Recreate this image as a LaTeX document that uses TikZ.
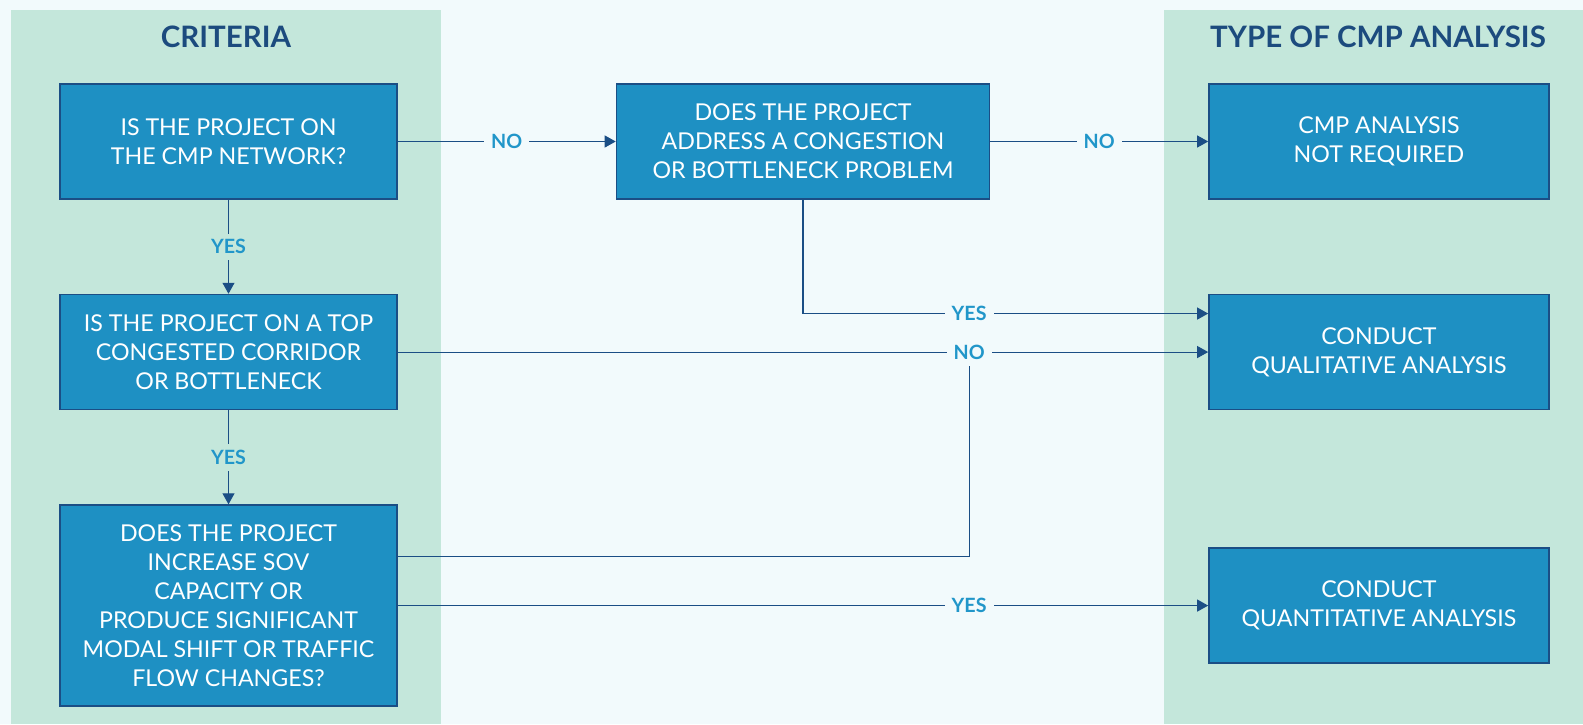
\documentclass[tikz,border=0pt]{standalone}
\usepackage{fontspec}
\setmainfont{Lato}
\usetikzlibrary{arrows.meta, positioning}

\definecolor{canvas}{HTML}{F2FAFC}
\definecolor{panelgreen}{HTML}{C4E7DB}
\definecolor{boxblue}{HTML}{1E90C3}
\definecolor{edgeblue}{HTML}{1B4E85}
\definecolor{tagblue}{HTML}{2196C9}
\definecolor{titleblue}{HTML}{1C4B7E}

\begin{document}
\begin{tikzpicture}[
    x=0.02cm, y=-0.02cm,
    node distance=1.88cm and 4.36cm,
    question/.style={
        rectangle,
        draw=edgeblue,
        fill=boxblue,
        line width=0.9pt,
        minimum width=6.74cm,
        minimum height=2.3cm,
        inner sep=0pt,
        align=center,
        text=white,
        font=\fontsize{13.2}{16.5}\selectfont
    },
    wide_question/.style={
        question,
        minimum width=7.46cm
    },
    tall_question/.style={
        question,
        minimum height=4.02cm
    },
    outcome/.style={
        question,
        minimum width=6.8cm
    },
    heading/.style={
        font=\fontsize{16.8}{19}\selectfont\bfseries,
        text=titleblue
    },
    link/.style={
        -{Triangle[length=0.22cm, width=0.24cm]},
        line width=0.6pt,
        draw=edgeblue
    },
    plain_link/.style={
        line width=0.6pt,
        draw=edgeblue
    },
    answer/.style={
        font=\fontsize{11.2}{12}\selectfont\bfseries,
        text=tagblue,
        fill=canvas,
        inner xsep=0.14cm,
        inner ysep=0.12cm
    },
    panel_answer/.style={
        answer,
        fill=panelgreen
    }
]

    % CANVAS AND PANELS
    \useasboundingbox (0,0) rectangle (1583,724);
    \fill[canvas] (0,0) rectangle (1583,724);
    \fill[panelgreen] (11,10) rectangle (441,724);
    \fill[panelgreen] (1164,10) rectangle (1583,724);

    % COLUMN HEADINGS
    \node[heading] (crit) at (226,37) {CRITERIA};
    \node[heading] (cmptype) at (1378,37) {TYPE OF CMP ANALYSIS};

    % CRITERIA COLUMN (Left Side)
    \node[question] (network) at (228.5,141.5) {IS THE PROJECT ON \\ THE CMP NETWORK?};
    \node[question] (corridor) [below=of network] {IS THE PROJECT ON A TOP \\ CONGESTED CORRIDOR \\ OR BOTTLENECK};
    \node[tall_question] (capacity) [below=of corridor] {DOES THE PROJECT \\ INCREASE SOV \\ CAPACITY OR \\ PRODUCE SIGNIFICANT \\ MODAL SHIFT OR TRAFFIC \\ FLOW CHANGES?};

    % MIDDLE QUESTION
    \node[wide_question] (problem) [right=of network] {DOES THE PROJECT \\ ADDRESS A CONGESTION \\ OR BOTTLENECK PROBLEM};

    % ANALYSIS COLUMN (Right Side)
    \node[outcome] (notreq) [right=of problem] {CMP ANALYSIS \\ NOT REQUIRED};
    \node[outcome] (qual) at (notreq |- corridor) {CONDUCT \\ QUALITATIVE ANALYSIS};
    \node[outcome] (quant) at (notreq |- capacity) {CONDUCT \\ QUANTITATIVE ANALYSIS};

    % TOP ROW LINKS
    \draw[link] (network) -- (problem) node[midway, answer] {NO};
    \draw[link] (problem) -- (notreq) node[midway, answer] {NO};

    % DOWN THE CRITERIA COLUMN
    \draw[link] (network) -- (corridor) node[midway, panel_answer] {YES};
    \draw[link] (corridor) -- (capacity) node[midway, panel_answer] {YES};

    % INTO THE ANALYSIS COLUMN
    \draw[link] (problem.south) |- ([yshift=0.77cm]qual.west) node[pos=0.705, answer] {YES};
    \draw[link] (corridor) -- (qual) node[pos=0.705, answer] (noqual) {NO};
    \draw[plain_link] ([yshift=0.99cm]capacity.east) -| (noqual.south);
    \draw[link] (capacity) -- (quant) node[pos=0.705, answer] {YES};

\end{tikzpicture}
\end{document}
